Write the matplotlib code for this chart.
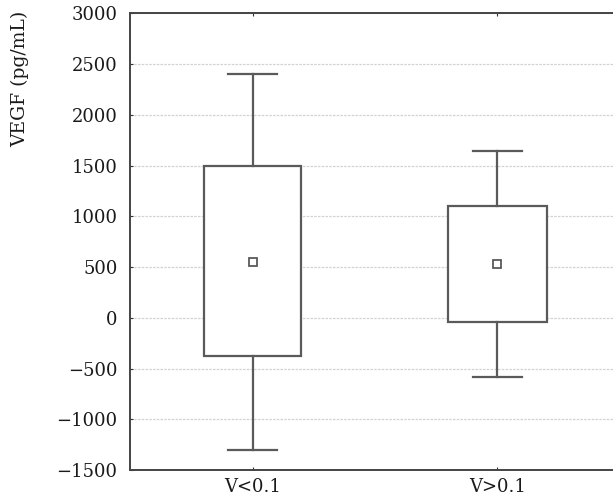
import matplotlib
matplotlib.use("Agg")
import matplotlib.pyplot as plt

# ── 数据 ──
groups = ["V<0.1", "V>0.1"]
means = [550, 530]
box_lo = [-380, -40]
box_hi = [1500, 1100]
whisk_lo = [-1300, -580]
whisk_hi = [2400, 1640]
yticks = [-1500, -1000, -500, 0, 500, 1000, 1500, 2000, 2500, 3000]

plt.rcParams["font.family"] = ["DejaVu Serif"]
plt.rcParams["axes.unicode_minus"] = True

fig = plt.figure(figsize=(6.13, 4.98), dpi=100)
ax = fig.add_axes([130 / 613, 1 - 470 / 498, 483 / 613, (470 - 13.3) / 498])

stats = []
for i, g in enumerate(groups):
    stats.append({
        "label": g,
        "mean": means[i],
        "med": means[i],
        "q1": box_lo[i],
        "q3": box_hi[i],
        "whislo": whisk_lo[i],
        "whishi": whisk_hi[i],
        "fliers": [],
    })

line_c = "#5a5a5a"
ax.bxp(stats, positions=[1, 2], widths=0.4, capwidths=0.2,
       showmeans=True, showfliers=False, patch_artist=True,
       boxprops=dict(facecolor="white", edgecolor=line_c, linewidth=1.6),
       whiskerprops=dict(color=line_c, linewidth=1.6),
       capprops=dict(color=line_c, linewidth=1.6),
       medianprops=dict(linewidth=0),
       meanprops=dict(marker="s", markersize=5.5, markerfacecolor="white",
                      markeredgecolor=line_c, markeredgewidth=1.3),
       zorder=3)

ax.set_xlim(0.5, 0.5 + 483 / 245)
ax.set_ylim(-1500, 3000)
ax.set_yticks(yticks)
ax.set_yticklabels([f"{v}".replace("-", "\u2212") for v in yticks], fontsize=13)
ax.set_xticks([1, 2])
ax.set_xticklabels(groups, fontsize=13)

ax.yaxis.grid(True, color="#d2d2d2", linestyle=(0, (2, 1)), linewidth=0.9, zorder=0)
ax.set_axisbelow(True)

ax.tick_params(axis="y", direction="in", length=2, pad=9, colors="#333333", labelcolor="#1a1a1a")
ax.tick_params(axis="x", direction="in", length=2, pad=6, top=True, colors="#333333", labelcolor="#1a1a1a")

for s in ["left", "bottom", "top"]:
    ax.spines[s].set_color("#444444")
    ax.spines[s].set_linewidth(1.4)
ax.spines["right"].set_visible(False)

fig.text(20 / 613, 1 - 79 / 498, "VEGF (pg/mL)", rotation=90, ha="center", va="center",
         fontsize=13.5, color="#1a1a1a")

fig.savefig("out.png", dpi=100)
